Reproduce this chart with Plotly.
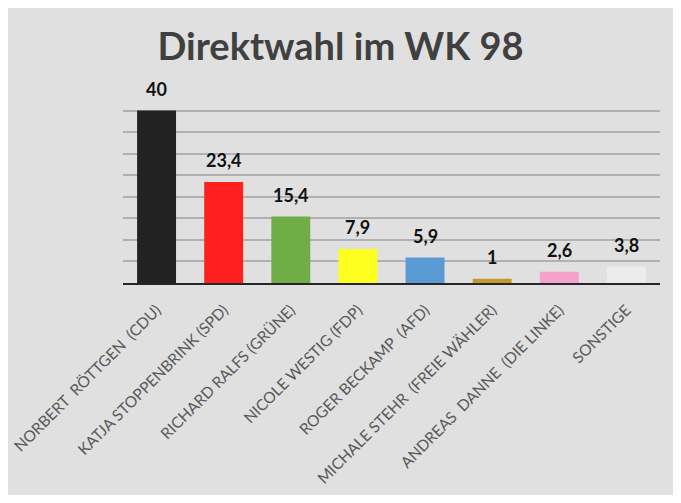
import plotly.graph_objects as go

# Data
candidates = [
    "NORBERT  RÖTTGEN  (CDU)",
    "KATJA STOPPENBRINK (SPD)",
    "RICHARD RALFS (GRÜNE)",
    "NICOLE WESTIG (FDP)",
    "ROGER BECKAMP  (AFD)",
    "MICHALE STEHR  (FREIE WÄHLER)",
    "ANDREAS  DANNE  (DIE LINKE)",
    "SONSTIGE",
]
percent = [40, 23.4, 15.4, 7.9, 5.9, 1, 2.6, 3.8]
bar_colors = ["#222222", "#ff1f1f", "#70ad47", "#ffff1f", "#5b9bd5", "#c8962e", "#f4a2cc", "#ececec"]
value_labels = ["40", "23,4", "15,4", "7,9", "5,9", "1", "2,6", "3,8"]

fig = go.Figure(
    go.Bar(
        x=candidates,
        y=percent,
        marker=dict(color=bar_colors, line=dict(width=0)),
        hoverinfo="x+y",
    )
)

# value labels above bars
for name, val, lab in zip(candidates, percent, value_labels):
    fig.add_annotation(
        x=name,
        y=val,
        text=lab,
        showarrow=False,
        yanchor="bottom",
        yshift=9,
        font=dict(family="Lato", size=18, color="#111111", weight="bold"),
    )

# page has an 8px body margin, so the figure is sized a bit smaller
fig.update_layout(
    width=665,
    height=487,
    title=dict(
        text="<b>Direktwahl im WK 98</b>",
        x=0.5,
        xanchor="center",
        y=0.92,
        yanchor="middle",
        font=dict(family="Lato", size=38, color="#404040"),
    ),
    paper_bgcolor="#e0e0e0",
    plot_bgcolor="rgba(0,0,0,0)",
    margin=dict(l=115, r=13, t=81, b=212),
    showlegend=False,
    bargap=0.42,
)

fig.update_xaxes(
    tickangle=-45,
    tickfont=dict(family="Lato", size=15.5, color="#595959"),
    showline=True,
    linecolor="#262626",
    linewidth=2,
    ticks="outside",
    ticklen=10,
    tickcolor="rgba(0,0,0,0)",
    automargin=False,
)
fig.update_yaxes(
    range=[0, 45],
    dtick=5,
    showticklabels=False,
    showgrid=True,
    gridcolor="#b0b0b0",
    gridwidth=1.5,
    zeroline=False,
    automargin=False,
)

fig.write_html("out.html")
